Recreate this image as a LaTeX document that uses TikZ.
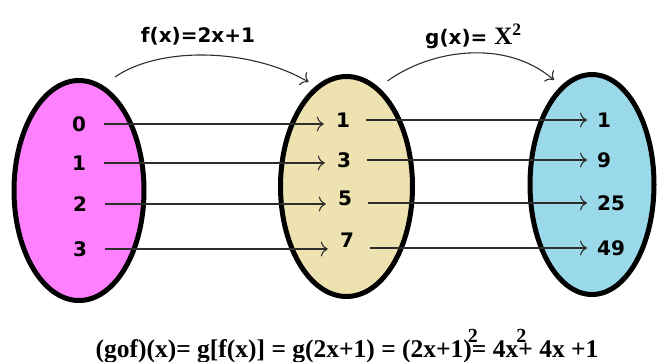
\documentclass[tikz,border=0pt]{standalone}
\usepackage{fontspec}
\setmainfont{Liberation Serif}
\setsansfont{DejaVu Sans}
\usetikzlibrary{positioning,arrows.meta,shapes.geometric}
\definecolor{setpink}{RGB}{255,128,255}
\definecolor{setwheat}{RGB}{238,226,176}
\definecolor{setblue}{RGB}{154,217,234}
\definecolor{arrowgray}{RGB}{45,45,45}
\newcommand{\sqmark}[1]{\kern-#1\rlap{\raisebox{15pt}{\fontsize{20}{20}\selectfont 2}}\kern#1}

\begin{document}
\begin{tikzpicture}[x=1pt,y=-1pt,
          setoval/.style={ellipse,draw=black,line width=5pt,inner sep=0pt},
          num/.style={font=\sffamily\bfseries\fontsize{20}{20}\selectfont,inner sep=0pt},
          mapto/.style={-{Computer Modern Rightarrow[length=7pt,width=15pt]},
            arrowgray,line width=1.1pt}]
        \useasboundingbox (0,0) rectangle (657,362);

        % the three sets
        \node[setoval,fill=setpink,minimum width=130pt,minimum height=220pt]
          (leftset) at (79,190.5) {};
        \node[setoval,fill=setwheat,minimum width=132pt,minimum height=220pt]
          (midset) at (346.5,186.5) {};
        \node[setoval,fill=setblue,minimum width=124pt,minimum height=220pt]
          (rightset) at (592,184.5) {};

        % domain
        \node[num,minimum width=50pt] (a0) at (79,124) {0};
        \node[num,minimum width=50pt] (a1) at (79,163) {1};
        \node[num,minimum width=50pt] (a2) at (80,204) {2};
        \node[num,minimum width=50pt] (a3) at (80,249) {3};

        % f(x)
        \node[num,minimum width=38pt] (b1) at (343,120) {1};
        \node[num,minimum width=38pt] (b3) at (344,160) {3};
        \node[num,minimum width=38pt] (b5) at (345,198) {5};
        \node[num,minimum width=38pt] (b7) at (347,240) {7};

        % g(f(x))
        \node[num,anchor=west,inner xsep=10pt] (c1) at (587,120) {1};
        \node[num,anchor=west,inner xsep=10pt] (c9) at (587,160) {9};
        \node[num,anchor=west,inner xsep=10pt] (c25) at (587,203) {25};
        \node[num,anchor=west,inner xsep=10pt] (c49) at (587,248) {49};

        \draw[mapto] (a0.east) -- (a0.east -| b1.west);
        \draw[mapto] (a1.east) -- (a1.east -| b3.west);
        \draw[mapto] (a2.east) -- (a2.east -| b5.west);
        \draw[mapto] (a3.east) -- (a3.east -| b7.west);

        \draw[mapto,shorten <=4pt] (c1.west -| b1.east) -- (c1.west);
        \draw[mapto,shorten <=4pt] (c9.west -| b3.east) -- (c9.west);
        \draw[mapto,shorten <=4pt] (c25.west -| b5.east) -- (c25.west);
        \draw[mapto,shorten <=4pt] (c49.west -| b7.east) -- (c49.west);

        % function names
        \node[num] (fname) at (198,36) {f(x)=2x+1};
        \node[num,anchor=west] (gname) at (425,36)
          {g(x)= {\rmfamily\bfseries\fontsize{25}{25}\selectfont X\textsuperscript{2}}};

        \coordinate (fbeg) at ([xshift=36pt,yshift=1pt]leftset.north);
        \coordinate (fend) at ([xshift=-38pt,yshift=-8pt]midset.north);
        \coordinate (gbeg) at ([xshift=41pt,yshift=-7pt]midset.north);
        \coordinate (gend) at ([xshift=-38pt,yshift=-8pt]rightset.north);
        \draw[mapto] (fbeg) .. controls (160,46) and (250,48) .. (fend);
        \draw[mapto] (gbeg) .. controls (430,50) and (505,38) .. (gend);

        % composition
        \node[anchor=base,inner sep=0pt,font=\bfseries\fontsize{25.5}{25.5}\selectfont]
          (compo) at (347,357)
          {(gof)(x)= g[f(x)] = g(2x+1) = (2x+1)\sqmark{4pt}= 4x\sqmark{2pt}+ 4x +1};
      \end{tikzpicture}
\end{document}
